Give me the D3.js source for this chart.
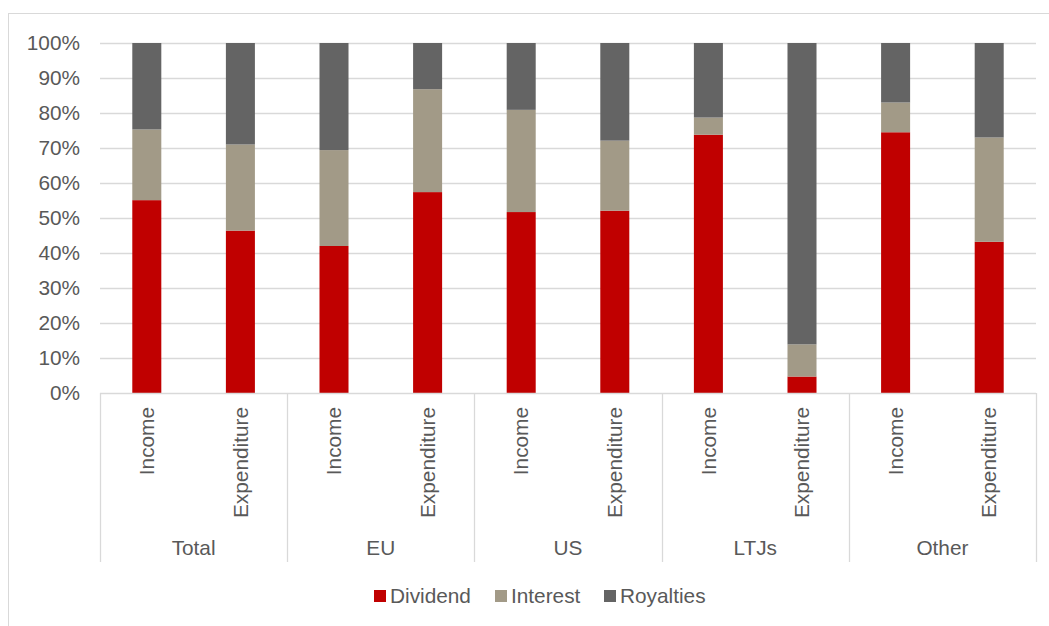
<!DOCTYPE html>
<html lang="en">
<head>
    <meta charset="UTF-8">
    <title>Dividend / Interest / Royalties shares</title>
    <script src="https://cdnjs.cloudflare.com/ajax/libs/d3/7.8.5/d3.min.js"></script>
    <style>
        body { margin: 0; padding: 0; background: #fff; }
        svg text { font-family: "Liberation Sans", Arial, sans-serif; fill: #595959; }
    </style>
</head>
<body>
    <div id="chart"></div>

    <script>
        // data (shares in %)
        const groups = ["Total", "EU", "US", "LTJs", "Other"];
        const flows = ["Income", "Expenditure"];
        const seriesNames = ["Dividend", "Interest", "Royalties"];
        const dividend  = [55.1, 46.4, 42.0, 57.4, 51.7, 52.1, 73.8, 4.7, 74.5, 43.2];
        const interest  = [20.2, 24.6, 27.4, 29.4, 29.2, 20.0, 4.9, 9.2, 8.5, 29.8];
        const royalties = [24.7, 29.0, 30.6, 13.2, 19.1, 27.9, 21.3, 86.1, 17.0, 27.0];
        const yTicks = [0, 10, 20, 30, 40, 50, 60, 70, 80, 90, 100];
        const colors = ["#C00000", "#A29A87", "#646464"];

        const width = 1049, height = 626;
        const margin = { left: 100, right: 13, top: 43, bottom: 233 };
        const fontSize = 20.8;

        // one row per bar
        const rows = [];
        groups.forEach((g, gi) => flows.forEach((f, fi) => {
            const i = gi * 2 + fi;
            rows.push({ key: g + "|" + f, group: g, flow: f,
                Dividend: dividend[i], Interest: interest[i], Royalties: royalties[i] });
        }));

        const svg = d3.select("#chart").append("svg")
            .attr("width", width)
            .attr("height", height);

        // chart frame
        svg.append("rect")
            .attr("x", 8.5).attr("y", 13.5)
            .attr("width", 1100).attr("height", 700)
            .attr("fill", "none").attr("stroke", "#D9D9D9");

        const x0 = margin.left, x1 = width - margin.right;
        const yTop = margin.top, yBot = height - margin.bottom;

        const x = d3.scaleBand()
            .domain(rows.map(d => d.key))
            .range([x0, x1])
            .paddingInner(0.69)
            .paddingOuter(0.345);

        const xg = d3.scaleBand().domain(groups).range([x0, x1]);

        const y = d3.scaleLinear().domain([0, 100]).range([yBot, yTop]);

        // gridlines
        svg.append("g")
            .selectAll("line")
            .data(yTicks.slice(1))
            .join("line")
            .attr("x1", x0).attr("x2", x1)
            .attr("y1", d => Math.round(y(d)) + 0.5)
            .attr("y2", d => Math.round(y(d)) + 0.5)
            .attr("stroke", "#D9D9D9")
            .attr("stroke-width", 1.3);

        // y axis labels
        svg.append("g")
            .selectAll("text")
            .data(yTicks)
            .join("text")
            .attr("x", 80)
            .attr("y", d => y(d))
            .attr("dy", "0.35em")
            .attr("text-anchor", "end")
            .attr("font-size", fontSize)
            .text(d => d + "%");

        // stacked bars
        const stacked = d3.stack().keys(seriesNames)(rows);
        svg.append("g")
            .selectAll("g")
            .data(stacked)
            .join("g")
            .attr("fill", (d, i) => colors[i])
            .selectAll("rect")
            .data(d => d)
            .join("rect")
            .attr("x", d => x(d.data.key))
            .attr("width", x.bandwidth())
            .attr("y", d => y(d[1]))
            .attr("height", d => y(d[0]) - y(d[1]));

        // category axis: baseline and group separators
        svg.append("line")
            .attr("x1", x0).attr("x2", x1)
            .attr("y1", yBot + 0.5).attr("y2", yBot + 0.5)
            .attr("stroke", "#D9D9D9").attr("stroke-width", 1.3);

        const sepX = groups.map(g => xg(g)).concat([x1]);
        svg.append("g")
            .selectAll("line")
            .data(sepX)
            .join("line")
            .attr("x1", d => Math.round(d) + 0.5).attr("x2", d => Math.round(d) + 0.5)
            .attr("y1", yBot).attr("y2", 562)
            .attr("stroke", "#D9D9D9").attr("stroke-width", 1.3);

        // rotated flow labels
        svg.append("g")
            .selectAll("text")
            .data(rows)
            .join("text")
            .attr("transform", d => `translate(${x(d.key) + x.bandwidth() / 2},${yBot + 14}) rotate(-90)`)
            .attr("dy", "0.35em")
            .attr("text-anchor", "end")
            .attr("font-size", fontSize)
            .text(d => d.flow);

        // group labels
        svg.append("g")
            .selectAll("text")
            .data(groups)
            .join("text")
            .attr("x", d => xg(d) + xg.bandwidth() / 2)
            .attr("y", 555)
            .attr("text-anchor", "middle")
            .attr("font-size", fontSize)
            .text(d => d);

        // legend
        const legendX = [374, 495, 604];
        const legend = svg.append("g")
            .selectAll("g")
            .data(seriesNames)
            .join("g")
            .attr("transform", (d, i) => `translate(${legendX[i]},596)`);
        legend.append("rect")
            .attr("x", 0).attr("y", -6)
            .attr("width", 12).attr("height", 12)
            .attr("fill", (d, i) => colors[i]);
        legend.append("text")
            .attr("x", 16)
            .attr("dy", "0.35em")
            .attr("font-size", fontSize)
            .text(d => d);
    </script>
</body>
</html>
